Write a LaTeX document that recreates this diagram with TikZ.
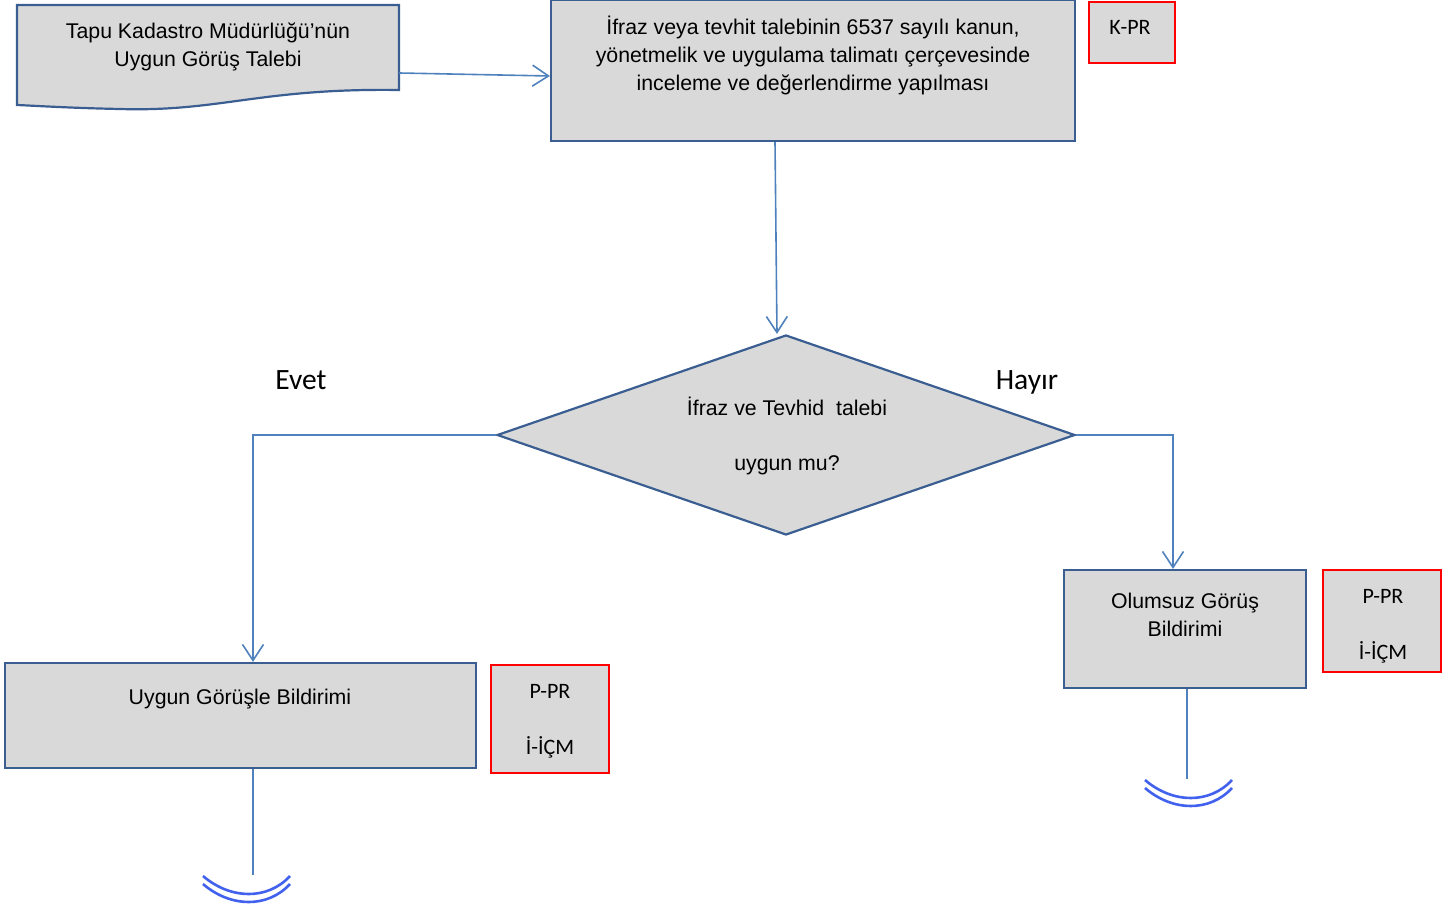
\documentclass[tikz,border=0pt]{standalone}
\usepackage{fontspec}
\setmainfont{Liberation Sans}
\newfontfamily\calibri{Carlito}
\usetikzlibrary{shapes.geometric, arrows.meta}
\definecolor{boxedge}{RGB}{58,94,146}
\definecolor{flowline}{RGB}{79,129,189}
\definecolor{boxfill}{RGB}{217,217,217}
\definecolor{endblue}{RGB}{66,98,238}

\begin{document}
\begin{tikzpicture}[x=1pt, y=-1pt,
  process/.style = {rectangle, draw=boxedge, fill=boxfill, line width=2.2pt, inner sep=0pt},
  decision/.style = {diamond, draw=boxedge, fill=boxfill, line width=2.2pt, inner sep=0pt},
  tag/.style = {rectangle, draw=red, fill=boxfill, line width=2.8pt, inner sep=0pt},
  tagtext/.style = {align=center, font=\calibri\fontsize{22pt}{28pt}\selectfont},
  flow/.style = {draw=flowline, line width=1.6pt, -{Straight Barb[length=16pt, width=21pt]}},
  endmark/.style = {draw=endblue, line width=2.6pt},
  answer/.style = {anchor=base, font=\calibri\fontsize{29.5pt}{32pt}\selectfont},
  font=\fontsize{21.3pt}{28pt}\selectfont]
  \useasboundingbox (0,0) rectangle (1442,909);

  % Request document.
  \draw [process] (17,5) -- (399,5) -- (399,90)
        .. controls (260,88) and (220,112) .. (120,109)
        .. controls (70,108) and (40,106) .. (17,105) -- cycle;
  \node at (208,46.5) [minimum width=382pt, minimum height=85pt, align=center, name=Request]
        {Tapu Kadastro Müdürlüğü’nün\\Uygun Görüş Talebi};

  % Boxes.
  \node at (813,70.5) [process, minimum width=524pt, minimum height=141pt, name=Review] {};
  \node at (813,55) [align=center, name=ReviewText]
        {İfraz veya tevhit talebinin 6537 sayılı kanun,\\
         yönetmelik ve uygulama talimatı çerçevesinde\\
         inceleme ve değerlendirme yapılması};
  \node at (1132,32.5) [tag, minimum width=86pt, minimum height=61pt, name=ReviewTag] {};
  \node at (1130,27) [tagtext, name=ReviewTagText] {K-PR};

  \node at (786,435) [decision, minimum width=578pt, minimum height=200pt, name=Decision] {};
  \node at (787,435.5) [align=center, name=DecisionText]
        {İfraz ve Tevhid\ \ talebi\\[27pt]uygun mu?};
  \node at (301,389) [answer, name=Yes] {Evet};
  \node at (1027,389) [answer, name=No] {Hayır};

  \node at (1185,629) [process, minimum width=242pt, minimum height=118pt, name=Reject] {};
  \node at (1185,615) [align=center, name=RejectText] {Olumsuz Görüş\\Bildirimi};
  \node at (1382,621) [tag, minimum width=118pt, minimum height=102pt, name=RejectTag] {};
  \node at (1383,626) [tagtext, name=RejectTagText] {P-PR\\[28pt]İ-İÇM};

  \node at (240.5,715.5) [process, minimum width=471pt, minimum height=105pt, name=Approve] {};
  \node at (240,699) [name=ApproveText] {Uygun Görüşle Bildirimi};
  \node at (550,719) [tag, minimum width=118pt, minimum height=108pt, name=ApproveTag] {};
  \node at (550,721) [tagtext, name=ApproveTagText] {P-PR\\[28pt]İ-İÇM};

  % Flow.
  \draw [flow] ([yshift=-26.5pt]Request.east) to ([yshift=-5.5pt]Review.west);
  \draw [flow] ([xshift=-38pt]Review.south) to ([xshift=-9pt]Decision.north);
  \draw [flow] (Decision.west) -| ([xshift=12.5pt]Approve.north);
  \draw [flow] (Decision.east) -| ([xshift=-12pt]Reject.north);

  % Ends.
  \coordinate (ApproveEnd) at (253,875);
  \coordinate (RejectEnd) at (1187,779);
  \draw [draw=flowline, line width=1.6pt] ([xshift=12.5pt]Approve.south) -- (ApproveEnd);
  \draw [draw=flowline, line width=1.6pt] ([xshift=2pt]Reject.south) -- (RejectEnd);
  \begin{scope}[shift={(ApproveEnd)}]
    \draw [endmark] (-50,1) .. controls (-22,25) and (15,25) .. (37,1);
    \draw [endmark] (-50,9) .. controls (-22,33) and (15,33) .. (37,9);
  \end{scope}
  \begin{scope}[shift={(RejectEnd)}]
    \draw [endmark] (-42,1) .. controls (-14,25) and (23,25) .. (45,1);
    \draw [endmark] (-42,9) .. controls (-14,33) and (23,33) .. (45,9);
  \end{scope}
\end{tikzpicture}
\end{document}
